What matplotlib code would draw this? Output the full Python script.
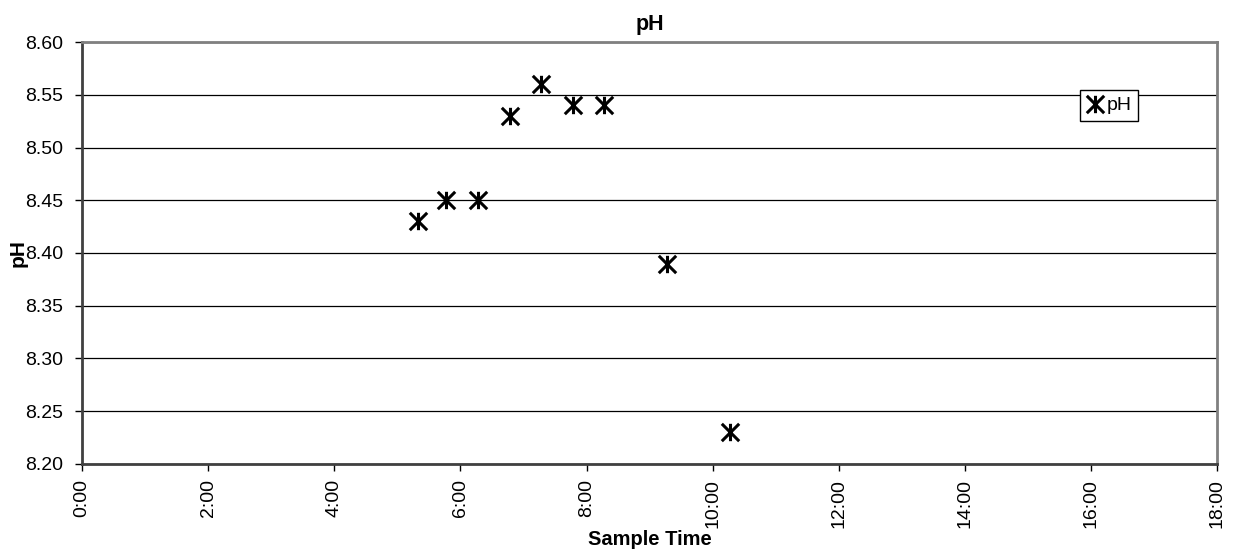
import matplotlib
matplotlib.use("Agg")
import matplotlib.pyplot as plt
from matplotlib.path import Path
from matplotlib.ticker import FuncFormatter

plt.rcParams['font.family'] = ['Liberation Sans', 'DejaVu Sans']

# sample times in hours after midnight, and pH readings
sample_hours = [5.33, 5.78, 6.28, 6.78, 7.28, 7.78, 8.28, 9.28, 10.28]
ph_values = [8.43, 8.45, 8.45, 8.53, 8.56, 8.54, 8.54, 8.39, 8.23]
x_ticks = [0, 2, 4, 6, 8, 10, 12, 14, 16, 18]
y_ticks = [8.20, 8.25, 8.30, 8.35, 8.40, 8.45, 8.50, 8.55, 8.60]

# excel style asterisk: an X with a vertical stroke
star = Path([(-1, -1), (1, 1), (-1, 1), (1, -1), (0, -1), (0, 1)],
            [Path.MOVETO, Path.LINETO, Path.MOVETO, Path.LINETO,
             Path.MOVETO, Path.LINETO])

fig = plt.figure(figsize=(12.38, 5.58), dpi=100)
ax = fig.add_axes([0.0662, 0.1685, 0.917, 0.7562])

ax.plot(sample_hours, ph_values, linestyle='none', marker=star,
        markersize=12.5, markeredgewidth=2.2, color='black',
        markerfacecolor='none', label='pH')

ax.set_xlim(0, 18)
ax.set_ylim(8.20, 8.60)
ax.set_xticks(x_ticks)
ax.set_yticks(y_ticks)
ax.xaxis.set_major_formatter(FuncFormatter(lambda v, p: '%d:00' % v))
ax.yaxis.set_major_formatter(FuncFormatter(lambda v, p: '%.2f' % v))
ax.tick_params(axis='x', labelrotation=90, labelsize=14, direction='out',
               length=5, width=1, pad=6)
ax.tick_params(axis='y', labelsize=14, direction='out', length=5, width=1,
               pad=8.5)

ax.grid(axis='y', color='black', linewidth=0.9)
ax.set_axisbelow(True)
for side in ['left', 'bottom']:
    ax.spines[side].set_color('#404040')
    ax.spines[side].set_linewidth(2)
for side in ['top', 'right']:
    ax.spines[side].set_color('#808080')
    ax.spines[side].set_linewidth(2)

ax.set_title('pH', fontsize=15.5, fontweight='bold', pad=9)
ax.set_xlabel('Sample Time', fontsize=14.5, fontweight='bold', labelpad=1)
ax.set_ylabel('pH', fontsize=15, fontweight='bold')
ax.yaxis.set_label_coords(-0.0475, 0.5)

leg = ax.legend(loc='center', bbox_to_anchor=(0.905, 0.8495), fontsize=14,
                fancybox=False, framealpha=1, edgecolor='black',
                handlelength=0.8, handletextpad=0.2, borderpad=0.35,
                borderaxespad=0)
leg.get_frame().set_linewidth(1)

fig.savefig('out.png', dpi=100)
